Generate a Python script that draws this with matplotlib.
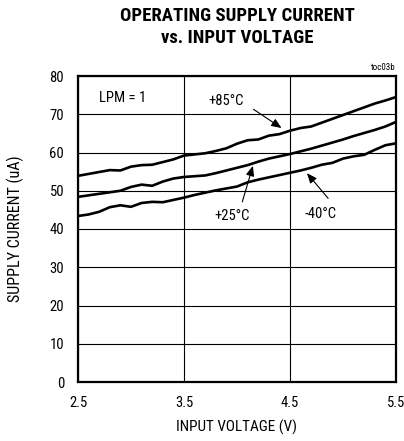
import matplotlib
matplotlib.use("Agg")
import matplotlib.pyplot as plt
import numpy as np

plt.rcParams['font.family'] = ['Roboto Condensed', 'Liberation Sans', 'DejaVu Sans']

voltage = [2.5, 2.6, 2.7, 2.8, 2.9, 3.0, 3.1, 3.2, 3.3, 3.4, 3.5, 3.6, 3.7, 3.8, 3.9,
           4.0, 4.1, 4.2, 4.3, 4.4, 4.5, 4.6, 4.7, 4.8, 4.9, 5.0, 5.1, 5.2, 5.3, 5.4, 5.5]
i_85 = [53.9, 54.4, 54.9, 55.4, 55.3, 56.3, 56.7, 56.8, 57.5, 58.2, 59.2, 59.5, 59.8, 60.4, 61.1,
        62.3, 63.2, 63.4, 64.4, 64.8, 65.7, 66.4, 66.8, 67.8, 68.8, 69.8, 70.8, 71.8, 72.8, 73.6, 74.5]
i_25 = [48.4, 48.8, 49.2, 49.6, 50.0, 51.0, 51.6, 51.3, 52.4, 53.2, 53.6, 53.8, 54.0, 54.6, 55.3,
        56.0, 56.7, 57.6, 58.4, 59.0, 59.6, 60.3, 61.0, 61.8, 62.6, 63.4, 64.3, 65.1, 65.9, 66.8, 68.0]
i_m40 = [43.4, 43.8, 44.5, 45.7, 46.2, 45.8, 46.8, 47.1, 47.0, 47.6, 48.2, 48.9, 49.5, 50.1, 50.6,
         51.1, 52.2, 52.9, 53.5, 54.1, 54.7, 55.3, 56.0, 56.8, 57.3, 58.4, 59.0, 59.4, 60.7, 61.9, 62.4]

x_ticks = [2.5, 3.5, 4.5, 5.5]
x_ticklabels = ['2.5', '3.5', '4.5', '5.5']
y_ticks = [0, 10, 20, 30, 40, 50, 60, 70, 80]

fig = plt.figure(figsize=(4.04, 4.41), dpi=100)
ax = fig.add_axes([78/404, 59/441, 318/404, 306/441])

for c in [i_85, i_25, i_m40]:
    ax.plot(voltage, c, color='black', lw=1.9, solid_capstyle='butt', zorder=3)

ax.set_xlim(2.5, 5.5)
ax.set_ylim(0, 80)
ax.set_xticks(x_ticks)
ax.set_xticklabels(x_ticklabels)
ax.set_yticks(y_ticks)
ax.grid(True, color='black', lw=0.8)
ax.tick_params(length=0, labelsize=10.5)
ax.tick_params(axis='y', pad=10)
ax.tick_params(axis='x', pad=10)
for s in ax.spines.values():
    s.set_linewidth(1.6)

ax.set_xlabel('INPUT VOLTAGE (V)', fontsize=11, labelpad=7)
ax.set_ylabel('SUPPLY CURRENT (uA)', fontsize=11.5, labelpad=18)

fig.text(237/404, 1 - 16/441, 'OPERATING SUPPLY CURRENT', ha='center', va='center',
         fontsize=13.5, fontweight='bold')
fig.text(237/404, 1 - 38/441, 'vs. INPUT VOLTAGE', ha='center', va='center',
         fontsize=13.5, fontweight='bold')
fig.text(396/404, 1 - 68/441, 'toc03b', ha='right', va='center', fontsize=6.5)

ax.text(2.92, 74.2, 'LPM = 1', ha='center', va='center', fontsize=10.5)
ax.text(3.9, 73.5, '+85°C', ha='center', va='center', fontsize=10.5)
ax.text(3.95, 43.4, '+25°C', ha='center', va='center', fontsize=10.5)
ax.text(4.79, 43.9, '-40°C', ha='center', va='center', fontsize=10.5)

arrow = dict(arrowstyle='-|>,head_length=0.6,head_width=0.25', color='black', lw=0.8,
             shrinkA=0, shrinkB=0)
ax.annotate('', xy=(4.42, 66.4), xytext=(4.155, 71.3), arrowprops=arrow)
ax.annotate('', xy=(4.15, 56.5), xytext=(4.05, 47.1), arrowprops=arrow)
ax.annotate('', xy=(4.66, 54.6), xytext=(4.86, 48.0), arrowprops=arrow)

fig.savefig('out.png', dpi=100)
